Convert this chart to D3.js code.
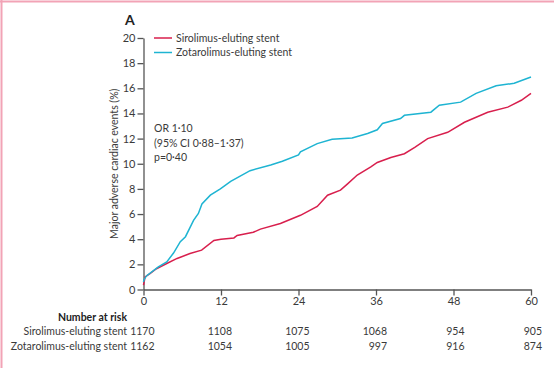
<!DOCTYPE html>
<html>
<head>
<meta charset="utf-8">
<script src="https://cdn.jsdelivr.net/npm/d3@7"></script>
<style>
  body { margin: 0; background: #fff; }
  svg text { font-family: Lato, "Open Sans", sans-serif; fill: #3a3a3a; }
</style>
</head>
<body>
<svg id="km" width="554" height="368"></svg>
<script>
var svg = d3.select('svg#km');

// data (months, %)
var sirolimus = [[0,0.35],[0.25,1.0],[1,1.27],[2,1.65],[3.6,2.07],[5.2,2.47],[7.2,2.86],[9,3.13],
  [10.9,3.9],[12,4.0],[14,4.1],[14.5,4.3],[17,4.55],[18.1,4.8],[21.2,5.25],[24.3,5.9],[26.9,6.6],
  [28.5,7.5],[30.5,7.9],[31.6,8.4],[33.1,9.1],[35.2,9.75],[36.2,10.1],[38.3,10.5],[40.4,10.8],
  [42,11.3],[44,12.0],[47.1,12.5],[49.7,13.3],[53.3,14.1],[56.4,14.5],[58.5,15.05],[60,15.6]];
var zotarolimus = [[0,0.6],[0.1,0.8],[0.5,1.1],[2.3,1.8],[3.6,2.2],[4.65,2.9],[5.7,3.8],[6.5,4.2],
  [7.75,5.5],[8.5,6.05],[9.05,6.8],[10.35,7.5],[11.9,8.0],[13.5,8.6],[16.5,9.45],[19.7,9.9],
  [21.5,10.2],[24,10.7],[24.3,10.95],[26.9,11.6],[29.2,11.95],[32.3,12.05],[34.7,12.4],[36.2,12.7],
  [37,13.2],[39.8,13.6],[40.4,13.85],[44.5,14.1],[45.8,14.65],[49.1,14.9],[51.5,15.6],[54.6,16.2],
  [57.4,16.4],[60,16.9]];

var xTicks = [0, 12, 24, 36, 48, 60];
var yTicks = [0, 2, 4, 6, 8, 10, 12, 14, 16, 18, 20];
var seriesNames = ["Sirolimus-eluting stent", "Zotarolimus-eluting stent"];
var seriesColors = ["#d81f4d", "#1eb4d2"];
var atRiskSiro = [1170, 1108, 1075, 1068, 954, 905];
var atRiskZota = [1162, 1054, 1005, 997, 916, 874];
var statLines = ["OR 1·10", "(95% CI 0·88–1·37)", "p=0·40"];

var fs = '10.5px';
var x = d3.scaleLinear().domain([0, 60]).range([143.5, 531]);
var y = d3.scaleLinear().domain([0, 20]).range([289.5, 38]);

// cropped frame edges
svg.append('line').attr('x1', 0).attr('x2', 554).attr('y1', 1.5).attr('y2', 1.5)
  .style('stroke', '#f2a3b6').style('stroke-width', 2);
svg.append('line').attr('x1', 1.5).attr('x2', 1.5).attr('y1', 0).attr('y2', 368)
  .style('stroke', '#f2a3b6').style('stroke-width', 2);

// axes
var xAxis = svg.append('g').attr('transform', 'translate(0,' + y(0) + ')')
  .call(d3.axisBottom(x).tickValues(xTicks).tickSize(6).tickPadding(2).tickSizeOuter(0));
var yAxis = svg.append('g').attr('transform', 'translate(' + x(0) + ',0)')
  .call(d3.axisLeft(y).tickValues(yTicks).tickSize(6).tickPadding(2).tickSizeOuter(0));
[xAxis, yAxis].forEach(function(a){
  a.select('.domain').style('stroke', '#555').style('stroke-width', 1.3);
  a.selectAll('.tick line').style('stroke', '#555').style('stroke-width', 1.3);
  a.selectAll('.tick text').style('font-size', '11px').style('font-family', 'Lato, sans-serif')
    .style('fill', '#3a3a3a');
});

svg.append('text').attr('transform', 'translate(114,' + y(10) + ') rotate(-90)')
  .attr('text-anchor', 'middle').attr('dy', '0.35em').style('font-size', fs)
  .text('Major adverse cardiac events (%)');

svg.append('text').attr('x', 125).attr('y', 25).style('font-size', '14px')
  .style('font-weight', 'bold').style('fill', '#222').text('A');

// curves
var line = d3.line().x(function(d){ return x(d[0]); }).y(function(d){ return y(d[1]); });
[sirolimus, zotarolimus].forEach(function(s, i){
  svg.append('path').attr('d', line(s)).style('fill', 'none')
    .style('stroke', seriesColors[i]).style('stroke-width', 1.5);
});

// legend
seriesNames.forEach(function(n, i){
  var ly = 38 + i * 14.5;
  svg.append('line').attr('x1', 154).attr('x2', 172).attr('y1', ly).attr('y2', ly)
    .style('stroke', seriesColors[i]).style('stroke-width', 1.5);
  svg.append('text').attr('x', 176).attr('y', ly).attr('dy', '0.35em')
    .style('font-size', fs).text(n);
});

// stats
statLines.forEach(function(t, i){
  svg.append('text').attr('x', 154).attr('y', 128.5 + i * 14.5).attr('dy', '0.35em')
    .style('font-size', fs).text(t);
});

// number at risk
svg.append('text').attr('x', 127).attr('y', 317.5).attr('dy', '0.35em')
  .attr('text-anchor', 'end').style('font-size', fs).style('font-weight', 'bold')
  .style('fill', '#222').text('Number at risk');
[atRiskSiro, atRiskZota].forEach(function(row, r){
  var ry = 331.5 + r * 14.5;
  svg.append('text').attr('x', 127).attr('y', ry).attr('dy', '0.35em')
    .attr('text-anchor', 'end').style('font-size', fs).text(seriesNames[r]);
  svg.selectAll(null).data(row).enter().append('text')
    .attr('x', function(d, i){ return x(xTicks[i]) + 11; }).attr('y', ry).attr('dy', '0.35em')
    .attr('text-anchor', 'end').style('font-size', fs).text(function(d){ return d; });
});
</script>
</body>
</html>
